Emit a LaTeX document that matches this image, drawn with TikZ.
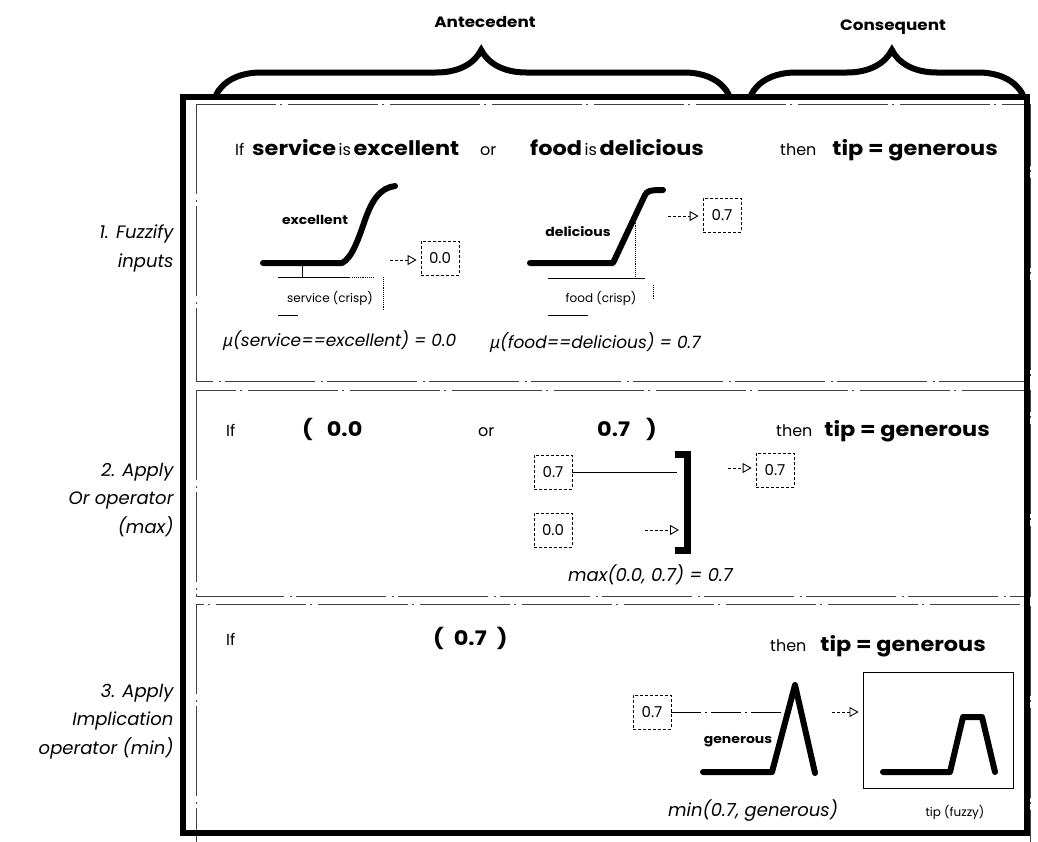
\documentclass[tikz,border=0pt]{standalone}
\usepackage{fontspec}
\setmainfont{Poppins}
\newfontfamily\hb{Poppins}[FakeStretch=1.12]
\newfontfamily\gk{Noto Sans}
\usetikzlibrary{arrows.meta,decorations.pathreplacing,calc}
\newcommand\bw[1]{{\hb\fontsize{20}{20}\selectfont\bfseries #1}}
\newcommand\rg[1]{{\fontsize{16}{16}\selectfont #1}}
\begin{document}
\begin{tikzpicture}[x=1pt,y=-1pt,
  panel/.style={draw=black!75, line width=0.9pt, dash pattern=on 90pt off 6pt on 2pt off 4pt},
  mf/.style={line width=6pt, line join=round, line cap=round},
  thinl/.style={line width=0.9pt},
  dotl/.style={line width=0.9pt, densely dotted},
  valbox/.style={draw, densely dashed, line width=0.8pt, minimum width=38pt, minimum height=34pt, inner sep=2pt, font=\fontsize{15}{15}\selectfont},
  imp/.style={-{Triangle[open,length=9pt,width=10pt]}, line width=0.9pt, densely dashed, shorten >=4pt},
  steplbl/.style={anchor=base east, align=right, font=\itshape\fontsize{18}{28.5}\selectfont},
  mflbl/.style={font=\hb\bfseries\fontsize{12.5}{12.5}\selectfont},
  crisp/.style={font=\fontsize{12}{12}\selectfont},
  formula/.style={font=\itshape\fontsize{17}{17}\selectfont, anchor=base west, inner sep=0},
  wordn/.style={anchor=base west, inner sep=0},
  hdr/.style={font=\hb\bfseries\fontsize{15}{15}\selectfont},
  brc/.style={decorate, decoration={brace, amplitude=45pt, aspect=0.517}, line width=6pt}
]
\useasboundingbox (0,0) rectangle (1038,841);

% headers and braces
\node[hdr] (ante) at (485,22) {Antecedent};
\node[hdr] (cons) at (893,27) {Consequent};
\draw[brc] (216,95) -- (729,95);
\draw[brc, decoration={brace, amplitude=45pt, aspect=0.518}] (751,95) -- (1023,95);

% panels
\draw[panel] (196,104) rectangle (1030,381);
\draw[panel] (196,390) rectangle (1030,596);
\draw[panel] (196,604) rectangle (1030,845);

% outer box
\draw[line width=6pt] (183,97) rectangle (1027,833);

% step labels
\node[steplbl] (s1) at (177,267) {1. Fuzzify\\inputs};
\node[steplbl] (s2) at (177,533) {2. Apply\\Or operator\\(max)};
\node[steplbl] (s3) at (177,754) {3. Apply\\Implication\\operator (min)};

% ---------- panel 1 ----------
\node[wordn] (r1if) at (235,155) {\rg{If}};
\node[wordn] (r1s) at (252,155) {\bw{service} \rg{is} \bw{excellent}};
\node[wordn] (r1or) at (480,155) {\rg{or}};
\node[wordn] (r1f) at (530,155) {\bw{food} \rg{is} \bw{delicious}};
\node[wordn] (r1then) at (780,155) {\rg{then}};
\node[wordn, anchor=base east] (r1t) at (998,155) {\bw{tip = generous}};

% excellent
\draw[mf] (263,263) -- (342,263) .. controls (352,258) and (358,240) .. (365,220) .. controls (372,200) and (380,188) .. (395,186);
\node[mflbl] (lexc) at (315,220) {excellent};
\draw[thinl] (278,277) -- (350,277);
\draw[thinl] (302,265) -- (302,277);
\draw[dotl] (352,277) -- (373,277);
\draw[dotl] (383,277) -- (383,310);
\node[crisp] (cs) at (330,298) {service (crisp)};
\draw[thinl] (278,315) -- (298,315);
\coordinate (a1) at (390,260);
\node[valbox] (v1) at (440,258) {0.0};
\draw[imp] (a1) -- (v1.west |- a1);
\node[formula] (f1) at (223,346) {{\gk μ}(service==excellent) = 0.0};

% delicious
\draw[mf] (530,263) -- (613,263) -- (645,195) .. controls (647,191) and (650,190) .. (663,190);
\node[mflbl] (ldel) at (578,232) {delicious};
\draw[dotl] (635,215) -- (635,278);
\draw[thinl] (548,278) -- (645,278);
\draw[dotl] (653,285) -- (653,300);
\node[crisp] (cf) at (601,298) {food (crisp)};
\draw[thinl] (548,315) -- (588,315);
\coordinate (a2) at (668,216);
\node[valbox] (v2) at (722,215) {0.7};
\draw[imp] (a2) -- (v2.west |- a2);
\node[formula] (f2) at (490,348) {{\gk μ}(food==delicious) = 0.7};

% ---------- panel 2 ----------
\node[wordn] (p2if) at (226,436) {\rg{If}};
\node[wordn] (p2a) at (302,436) {\bw{(\hspace{14pt}0.0}};
\node[wordn] (p2or) at (478,436) {\rg{or}};
\node[wordn] (p2b) at (597,436) {\bw{0.7\hspace{16pt})}};
\node[wordn] (p2then) at (776,436) {\rg{then}};
\node[wordn, anchor=base east] (p2c) at (990,436) {\bw{tip = generous}};

\node[valbox] (m07) at (553,472) {0.7};
\node[valbox] (m00) at (553,530) {0.0};
\coordinate (bt) at (687,454);
\coordinate (bb) at (687,550);
\draw[line width=7pt, line join=miter] ($(bt)+(-12,0)$) -- (bt) -- (bb) -- ($(bb)+(-12,0)$);
\draw[thinl] (m07.east) -- ($(bt)+(-10,18)$);
\coordinate (a3) at (645,530);
\draw[imp] (a3) -- ($(bb)+(-4,-20)$);
\coordinate (a4) at (728,468);
\node[valbox] (m) at (775,470) {0.7};
\draw[imp] (a4) -- (m.west |- a4);
\node[formula, font=\itshape\fontsize{18}{18}\selectfont] (f3) at (568,581) {max(0.0, 0.7) = 0.7};

% ---------- panel 3 ----------
\node[wordn] (p3if) at (226,645) {\rg{If}};
\node[wordn] (p3a) at (433,645) {\bw{(\hspace{10pt}0.7\hspace{10pt})}};
\node[wordn] (p3then) at (770,651) {\rg{then}};
\node[wordn, anchor=base east] (p3c) at (986,651) {\bw{tip = generous}};

\node[valbox] (i07) at (652,712) {0.7};
\draw[thinl, dash pattern=on 30pt off 4pt on 2pt off 4pt] (i07.east |- 0,712) -- (782,712);
\draw[mf] (703,772) -- (772,772) -- (795,685) -- (815,773);
\node[mflbl] (lgen) at (738,742) {generous};
\coordinate (a5) at (832,712);
\node[draw, thinl, minimum width=150pt, minimum height=116pt, inner sep=0] (tipbox) at (938,730) {};
\draw[imp] (a5) -- (tipbox.west |- a5);
\draw[mf] (883,772) -- (950,772) -- (963,717) -- (982,717) -- (995,772);
\node[formula, font=\itshape\fontsize{18}{18}\selectfont] (f4) at (668,816) {min(0.7, generous)};
\node[crisp, anchor=base, font=\fontsize{12}{12}\selectfont] (tf) at (955,816) {tip (fuzzy)};
\end{tikzpicture}
\end{document}
